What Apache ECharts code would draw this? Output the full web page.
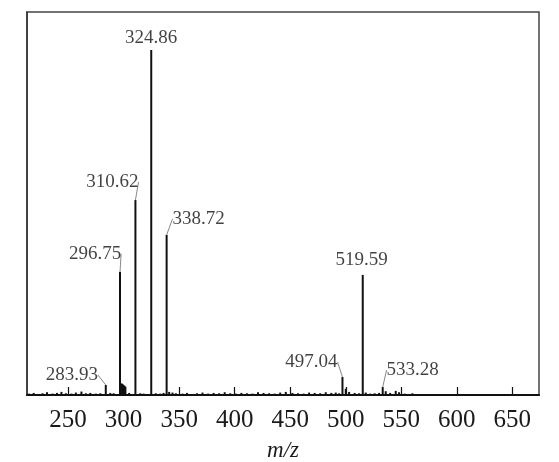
<!DOCTYPE html>
<html>
<head>
<meta charset="utf-8">
<script src="https://cdn.jsdelivr.net/npm/echarts@6/dist/echarts.min.js"></script>
<style>html,body{margin:0;padding:0;background:#fff;}#c{width:559px;height:462px;}</style>
</head>
<body>
<div id="c"></div>
<script>
// Main labelled peaks: position (m/z as drawn), relative intensity, label text
var peakMz = [283.93, 296.75, 310.62, 324.86, 338.72, 497.04, 515.3, 533.28];
var peakInt = [2.9, 35.7, 56.5, 100, 46.4, 5.2, 34.8, 2.3];
var peakLabels = ['283.93', '296.75', '310.62', '324.86', '338.72', '497.04', '519.59', '533.28'];
// label offsets (px) from peak top
var labelDx = [-34, -25, -23, 0, 32, -31, -1, 30];
var labelDy = [-10, -18, -18, -12, -16, -15, -15, -17];
var labelLeader = [true, true, true, false, true, true, false, true];

// Cluster near 298-302 and small noise peaks
var clusterMz = [297.6, 298.4, 299.2, 300.0, 300.8, 301.6];
var clusterInt = [3.3, 3.3, 3.1, 2.9, 2.6, 2.4];
var noiseMz = [215, 219, 223, 227, 231, 236, 240, 244, 248, 253, 257, 262, 266, 270, 275, 279, 288, 291, 305, 315, 318, 329, 333, 336, 341, 344, 347, 353, 357, 362, 366, 371, 376, 381, 386, 391, 396, 401, 406, 411, 416, 421, 426, 431, 436, 441, 446, 452, 457, 462, 467, 472, 477, 482, 487, 491, 494, 500, 503, 508, 512, 518, 522, 526, 530, 536, 540, 545, 548, 553, 560];
var noiseInt = [0.4, 0.6, 0.3, 0.5, 0.8, 0.4, 0.6, 0.9, 0.5, 0.4, 0.7, 1.0, 0.5, 0.6, 0.4, 0.5, 0.6, 0.5, 0.6, 0.5, 0.4, 0.5, 0.4, 0.6, 0.9, 0.7, 0.5, 0.4, 0.6, 0.3, 0.5, 0.7, 0.4, 0.6, 0.5, 0.8, 0.5, 0.4, 0.6, 0.5, 0.4, 0.8, 0.6, 0.5, 0.4, 0.7, 0.9, 0.6, 0.5, 0.4, 0.7, 0.6, 0.5, 0.8, 0.6, 0.7, 0.5, 1.8, 0.9, 0.6, 0.5, 0.7, 0.4, 0.5, 0.6, 1.1, 0.6, 1.2, 0.8, 0.4, 0.5];

var xTicks = [250, 300, 350, 400, 450, 500, 550, 600, 650];

var stickData = [];
for (var i = 0; i < noiseMz.length; i++) stickData.push([noiseMz[i], noiseInt[i]]);
for (var i = 0; i < clusterMz.length; i++) stickData.push([clusterMz[i], clusterInt[i]]);
for (var i = 0; i < peakMz.length; i++) stickData.push([peakMz[i], peakInt[i]]);

var labelData = [];
for (var i = 0; i < peakMz.length; i++) {
  labelData.push({
    value: [peakMz[i], peakInt[i]],
    labelLine: {show: labelLeader[i]}
  });
}

var chart = echarts.init(document.getElementById('c'), null, {renderer: 'canvas'});
chart.setOption({
  animation: false,
  backgroundColor: '#fff',
  grid: {left: 27, right: 20, top: 12, bottom: 67, show: true, borderColor: '#444', borderWidth: 1.5,
    backgroundColor: 'transparent', containLabel: false, outerBoundsMode: 'none'},
  xAxis: {
    type: 'value', min: 213, max: 674,
    axisLine: {show: true, lineStyle: {color: '#111', width: 2}},
    axisTick: {show: true, inside: true, length: 8, lineStyle: {color: '#111', width: 1.2},
      customValues: xTicks},
    axisLabel: {show: true, margin: 13, color: '#1a1a1a', fontFamily: 'Liberation Serif', fontSize: 25,
      customValues: xTicks},
    splitLine: {show: false},
    name: 'm/z', nameLocation: 'middle', nameGap: 44,
    nameTextStyle: {fontFamily: 'Liberation Serif', fontStyle: 'italic', fontSize: 23, color: '#1a1a1a'}
  },
  yAxis: {
    type: 'value', min: 0, max: 111,
    axisLine: {show: true, lineStyle: {color: '#333', width: 1.5}},
    axisTick: {show: false}, axisLabel: {show: false}, splitLine: {show: false}
  },
  series: [
    {
      type: 'bar', data: stickData, barWidth: 2, barGap: '-100%',
      itemStyle: {color: '#111'}, silent: true
    },
    {
      type: 'scatter', data: labelData, symbolSize: 0.1, silent: true,
      label: {show: true, position: 'inside', formatter: function (p) { return peakLabels[p.dataIndex]; },
        fontFamily: 'Liberation Serif', fontSize: 19, color: '#111'},
      labelLayout: function (p) {
        return {dx: labelDx[p.dataIndex], dy: labelDy[p.dataIndex]};
      },
      labelLine: {show: true, lineStyle: {color: '#888', width: 1}}
    }
  ]
});
</script>
</body>
</html>
